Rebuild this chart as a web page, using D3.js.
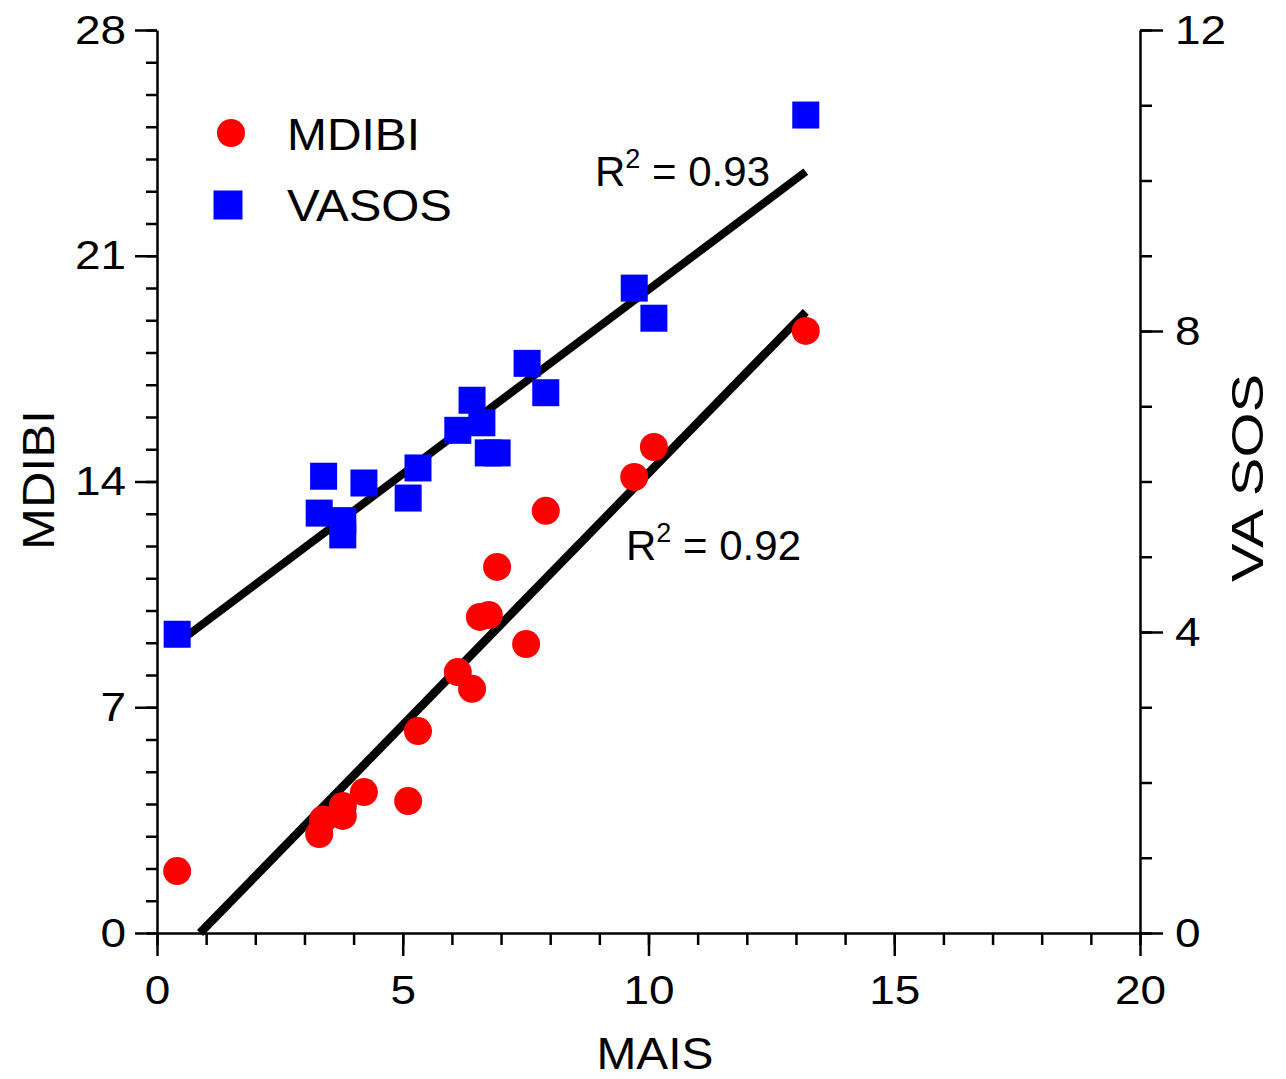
<!DOCTYPE html>
<html>
<head>
<meta charset="utf-8">
<script src="https://cdn.jsdelivr.net/npm/d3@7/dist/d3.min.js"></script>
<style>
  html, body { margin: 0; padding: 0; background: #fff; }
  svg { display: block; font-family: "Liberation Sans", Arial, sans-serif; }
  .axis path, .axis line { stroke: #000; stroke-width: 2.5px; }
  .axis text { font-size: 41px; fill: #000; font-family: "Liberation Sans", Arial, sans-serif; }
</style>
</head>
<body>
<script>
// MAIS on the shared x axis
const maisMDIBI = [0.41, 3.30, 3.38, 3.78, 3.78, 4.21, 5.11, 5.31, 6.12, 6.41, 6.57, 6.75, 6.92, 7.51, 7.91, 9.71, 10.11, 13.20];
const mdibi     = [1.92, 3.07, 3.52, 3.94, 3.63, 4.37, 4.09, 6.26, 8.09, 7.57, 9.80, 9.86, 11.35, 8.96, 13.09, 14.14, 15.07, 18.67];

const maisVASOS = [0.41, 3.30, 3.39, 3.78, 3.78, 4.21, 5.11, 5.31, 6.12, 6.41, 6.61, 6.74, 6.92, 7.53, 7.91, 9.71, 10.11, 13.20];
const vasos     = [3.97, 5.58, 6.07, 5.48, 5.29, 5.98, 5.78, 6.18, 6.68, 7.08, 6.78, 6.38, 6.38, 7.57, 7.18, 8.57, 8.17, 10.87];

// Linear fits: [slope, intercept, xStart, xEnd]
const fitMDIBI = [1.5627, -1.367, 0.875, 13.2];
const fitVASOS = [0.490, 3.65, 0.5, 13.2];
const r2Labels = ["0.93", "0.92"];

const xTicks = [0, 5, 10, 15, 20];
const yLeftTicks = [0, 7, 14, 21, 28];
const yRightTicks = [0, 4, 8, 12];

const W = 1286, H = 1079;
const svg = d3.select("body").append("svg").attr("width", W).attr("height", H);

const x = d3.scaleLinear().domain([0, 20]).range([157, 1140]);
const yL = d3.scaleLinear().domain([0, 28]).range([933, 30]);
const yR = d3.scaleLinear().domain([0, 12]).range([933, 30]);

// widen glyphs of a text selection by a factor
function widen(sel, f) {
  sel.each(function () {
    const len = this.getComputedTextLength();
    this.setAttribute("textLength", len * f);
    this.setAttribute("lengthAdjust", "spacingAndGlyphs");
  });
}

// minor ticks
svg.append("g").attr("class", "axis").attr("transform", "translate(157,0)")
  .call(d3.axisLeft(yL).tickValues(d3.range(0, 29, 1)).tickSize(11).tickFormat(""))
  .call(g => g.select(".domain").remove());
svg.append("g").attr("class", "axis").attr("transform", "translate(1140,0)")
  .call(d3.axisRight(yR).tickValues(d3.range(0, 13, 1)).tickSize(12).tickFormat(""))
  .call(g => g.select(".domain").remove());
svg.append("g").attr("class", "axis").attr("transform", "translate(0,933)")
  .call(d3.axisBottom(x).tickValues(d3.range(0, 21, 1)).tickSize(12).tickFormat(""))
  .call(g => g.select(".domain").remove());

// major ticks and axis lines
const gl = svg.append("g").attr("class", "axis").attr("transform", "translate(157,0)")
  .call(d3.axisLeft(yL).tickValues(yLeftTicks).tickSize(22).tickSizeOuter(0).tickPadding(9));
const gr = svg.append("g").attr("class", "axis").attr("transform", "translate(1140,0)")
  .call(d3.axisRight(yR).tickValues(yRightTicks).tickSize(23).tickSizeOuter(0).tickPadding(12));
const gb = svg.append("g").attr("class", "axis").attr("transform", "translate(0,933)")
  .call(d3.axisBottom(x).tickValues(xTicks).tickSize(23).tickSizeOuter(0).tickPadding(19));
[gl, gr, gb].forEach(g => widen(g.selectAll("text"), 1.12));

// axis titles
svg.append("text").attr("x", 655).attr("y", 1069).attr("text-anchor", "middle")
  .attr("font-size", 45).attr("textLength", 117).attr("lengthAdjust", "spacingAndGlyphs").text("MAIS");
svg.append("text").attr("transform", "translate(54,480) rotate(-90)").attr("text-anchor", "middle")
  .attr("font-size", 45).attr("textLength", 140).attr("lengthAdjust", "spacingAndGlyphs").text("MDIBI");
svg.append("text").attr("transform", "translate(1263,478) rotate(-90)").attr("text-anchor", "middle")
  .attr("font-size", 45).attr("textLength", 208).attr("lengthAdjust", "spacingAndGlyphs").text("VA SOS");

// regression lines
const fitLine = (f, yScale) => [[f[2], f[0] * f[2] + f[1]], [f[3], f[0] * f[3] + f[1]]]
  .map(p => [x(p[0]), yScale(p[1])]);
svg.append("path").attr("d", d3.line()(fitLine(fitVASOS, yR)))
  .attr("stroke", "#000").attr("stroke-width", 8).attr("fill", "none");
svg.append("path").attr("d", d3.line()(fitLine(fitMDIBI, yL)))
  .attr("stroke", "#000").attr("stroke-width", 8.5).attr("fill", "none");

// markers
const sq = 27;
svg.append("g").selectAll("rect").data(vasos).join("rect")
  .attr("x", (d, i) => x(maisVASOS[i]) - sq / 2)
  .attr("y", d => yR(d) - sq / 2)
  .attr("width", sq).attr("height", sq).attr("fill", "#0000ff");
svg.append("g").selectAll("circle").data(mdibi).join("circle")
  .attr("cx", (d, i) => x(maisMDIBI[i]))
  .attr("cy", d => yL(d))
  .attr("r", 14).attr("fill", "#ff0000");

// R² annotations
function r2(xp, yp, val) {
  const t = svg.append("text").attr("x", xp).attr("y", yp).attr("font-size", 42);
  t.append("tspan").text("R");
  t.append("tspan").attr("font-size", 27).attr("dy", -18).text("2");
  t.append("tspan").attr("dy", 18).text(" = " + val);
}
r2(595, 186, r2Labels[0]);
r2(626, 560, r2Labels[1]);

// legend
svg.append("circle").attr("cx", 231).attr("cy", 133).attr("r", 14).attr("fill", "#ff0000");
svg.append("text").attr("x", 287).attr("y", 150).attr("font-size", 45)
  .attr("textLength", 133).attr("lengthAdjust", "spacingAndGlyphs").text("MDIBI");
svg.append("rect").attr("x", 228 - sq / 2 - 1).attr("y", 205 - sq / 2 - 1)
  .attr("width", sq + 2).attr("height", sq + 2).attr("fill", "#0000ff");
svg.append("text").attr("x", 287).attr("y", 221).attr("font-size", 45)
  .attr("textLength", 165).attr("lengthAdjust", "spacingAndGlyphs").text("VASOS");
</script>
</body>
</html>
